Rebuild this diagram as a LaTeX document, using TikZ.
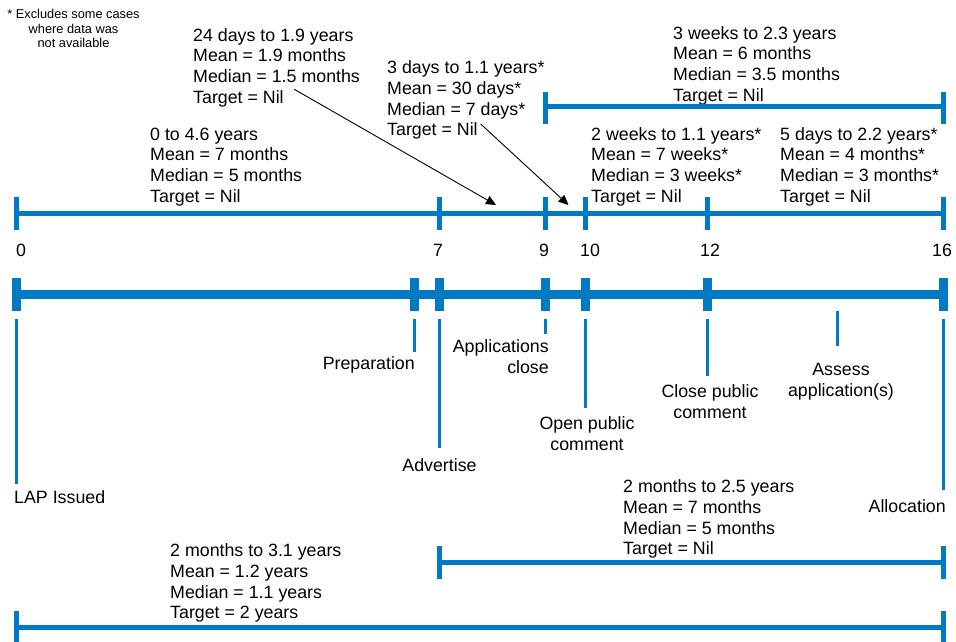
\documentclass[tikz,border=0pt]{standalone}
\usepackage{fontspec}
\setmainfont{Liberation Sans}
\usetikzlibrary{arrows.meta}
\definecolor{tlblue}{RGB}{0,122,194}
\newcommand\bodyfont{\fontsize{17.8}{20.7}\selectfont}
\newcommand\notefont{\fontsize{12.8}{14.5}\selectfont}

\begin{document}
\begin{tikzpicture}[x=1pt,y=-1pt,
  % text blocks: the given point is the baseline of the first line
  ltxt/.style={inner sep=0pt, font=\bodyfont, align=left, anchor=north west, yshift=14.49pt},
  ctxt/.style={inner sep=0pt, font=\bodyfont, align=center, anchor=north, yshift=14.49pt},
  rtxt/.style={inner sep=0pt, font=\bodyfont, align=right, anchor=north east, yshift=14.49pt},
  notetxt/.style={inner sep=0pt, font=\notefont, align=center, anchor=north, yshift=10.15pt},
  numtxt/.style={inner sep=0pt, font=\bodyfont, anchor=base},
  bar/.style={tlblue, line width=9pt},
  barblock/.style={fill=tlblue, draw=none},
  leader/.style={tlblue, line width=3pt},
  span/.style={tlblue, line width=4.7pt},
  spantick/.style={tlblue, line width=5pt},
  pointer/.style={black, line width=0.9pt, -{Triangle[length=10pt,width=9pt]}}
]
\useasboundingbox (0,0) rectangle (956,642);

% footnote
\node[notetxt] (note) at (73.5,18.6) {\strut* Excludes some cases\\where data was\\not available};

% duration statistics
\node[ltxt] (prepstats) at (193,41) {\strut 24 days to 1.9 years\\Mean = 1.9 months\\Median = 1.5 months\\Target = Nil};
\node[ltxt] (closestats) at (387,73.6) {\strut 3 days to 1.1 years*\\Mean = 30 days*\\Median = 7 days*\\Target = Nil};
\node[ltxt] (assessall) at (673,39) {\strut 3 weeks to 2.3 years\\Mean = 6 months\\Median = 3.5 months\\Target = Nil};
\node[ltxt] (lapstats) at (150,140) {\strut 0 to 4.6 years\\Mean = 7 months\\Median = 5 months\\Target = Nil};
\node[ltxt] (commentstats) at (591,140) {\strut 2 weeks to 1.1 years*\\Mean = 7 weeks*\\Median = 3 weeks*\\Target = Nil};
\node[ltxt] (assessstats) at (780,140) {\strut 5 days to 2.2 years*\\Mean = 4 months*\\Median = 3 months*\\Target = Nil};
\node[ltxt] (advstats) at (623,492.5) {\strut 2 months to 2.5 years\\Mean = 7 months\\Median = 5 months\\Target = Nil};
\node[ltxt] (totalstats) at (170,556.5) {\strut 2 months to 3.1 years\\Mean = 1.2 years\\Median = 1.1 years\\Target = 2 years};

% step numbers
\node[numtxt] (n0) at (21,256) {0};
\node[numtxt] (n7) at (438,256) {7};
\node[numtxt] (n9) at (544,256) {9};
\node[numtxt] (n10) at (590,256) {10};
\node[numtxt] (n12) at (710,256) {12};
\node[numtxt] (n16) at (942,256) {16};

% upper timeline of intervals
\draw[span] (16.5,213.3) -- (943.5,213.3);
\foreach \x in {16.5,439.5,545.5,585.5,707.5,943.5}
  \draw[spantick] (\x,197) -- (\x,230);

% interval from applications close to allocation
\draw[span] (545.5,106.3) -- (943.5,106.3);
\foreach \x in {545.5,943.5}
  \draw[spantick] (\x,92) -- (\x,124);

% main process bar
\draw[bar] (12,294.3) -- (948,294.3);
\foreach \x in {16.5,414,439.5,545.5,585.5,707.5,943.5}
  \fill[barblock] (\x-4.5,278) rectangle (\x+4.5,311);

% stage leaders
\draw[leader] (16,319) -- (16,484);
\draw[leader] (414,319) -- (414,352);
\draw[leader] (439.5,319) -- (439.5,448);
\draw[leader] (545.5,319) -- (545.5,334);
\draw[leader] (585.5,319) -- (585.5,408);
\draw[leader] (707.5,319) -- (707.5,376);
\draw[leader] (837,311) -- (837,346);
\draw[leader] (943,319) -- (943,490);

% stage labels
\node[ltxt] (lap) at (14,503.5) {\strut LAP Issued};
\node[rtxt] (prep) at (415,369.5) {\strut Preparation};
\node[ctxt] (adv) at (439.5,471.5) {\strut Advertise};
\node[rtxt] (appl) at (549,352.5) {\strut Applications\\close};
\node[ctxt] (openpc) at (587,429.5) {\strut Open public\\comment};
\node[ctxt] (closepc) at (710,397.5) {\strut Close public\\comment};
\node[ctxt] (assess) at (841,375.5) {\strut Assess\\application(s)};
\node[rtxt] (alloc) at (946,512.5) {\strut Allocation};

% lower intervals
\draw[span] (439.5,562.5) -- (943.5,562.5);
\foreach \x in {439.5,943.5}
  \draw[spantick] (\x,546) -- (\x,579);
\draw[span] (16.5,627.5) -- (943.5,627.5);
\foreach \x in {16.5,943.5}
  \draw[spantick] (\x,611) -- (\x,642);

% pointers from statistics to their intervals
\coordinate (p1s) at (294.3,89.3);
\coordinate (p1e) at (496,205);
\coordinate (p2s) at (480.7,124);
\coordinate (p2e) at (568.5,205);
\draw[pointer] (p1s) -- (p1e);
\draw[pointer] (p2s) -- (p2e);
\end{tikzpicture}
\end{document}
